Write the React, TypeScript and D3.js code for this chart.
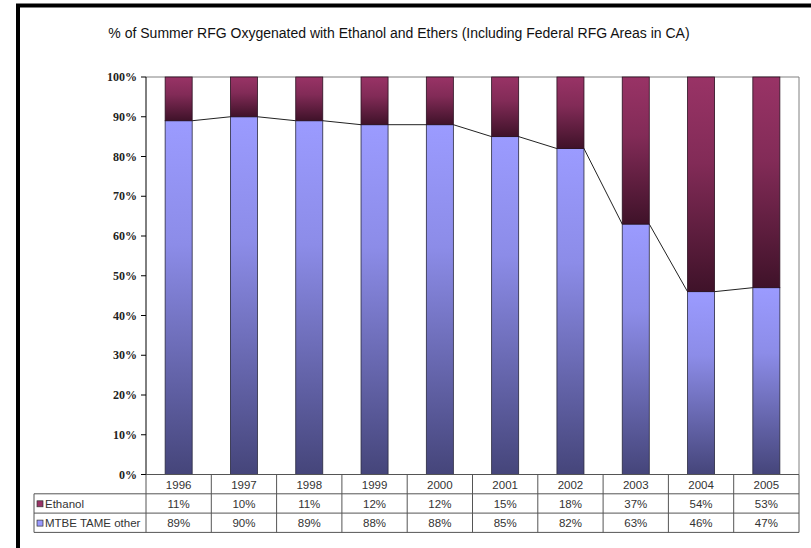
import React from "react";
import * as d3 from "d3";

const years = ["1996", "1997", "1998", "1999", "2000", "2001", "2002", "2003", "2004", "2005"];
const ethanol = [11, 10, 11, 12, 12, 15, 18, 37, 54, 53];
const mtbe = [89, 90, 89, 88, 88, 85, 82, 63, 46, 47];
const seriesNames = ["Ethanol", "MTBE TAME other"];
const yTicks = [0, 10, 20, 30, 40, 50, 60, 70, 80, 90, 100];
const title = "% of Summer RFG Oxygenated with Ethanol and Ethers (Including Federal RFG Areas in CA)";

const W = 811;
const H = 548;
const plotLeft = 146;
const plotRight = 799;
const plotTop = 77;
const plotBottom = 474.5;
const rowH = 19.3;
const tableLeft = 34;

export default function App() {
  const x = d3
    .scaleBand<string>()
    .domain(years)
    .range([plotLeft, plotRight])
    .paddingInner(0.586)
    .paddingOuter(0.293);
  const cols = d3.scaleBand<string>().domain(years).range([plotLeft, plotRight]).padding(0);
  const y = d3.scaleLinear().domain([0, 100]).range([plotBottom, plotTop]);
  const bw = x.bandwidth();

  const stacked = years.map((yr, i) => ({
    yr,
    m0: 0,
    m1: mtbe[i],
    e0: mtbe[i],
    e1: mtbe[i] + ethanol[i],
  }));

  const row1 = plotBottom;
  const row2 = row1 + rowH;
  const row3 = row2 + rowH;
  const row4 = row3 + rowH;
  const gridColor = "#555";
  const textColor = "#333";

  return (
    <svg
      width={W}
      height={H}
      style={{ position: "absolute", left: 0, top: 0, background: "#fff" }}
      fontFamily="Arial, 'Liberation Sans', sans-serif"
    >
      <defs>
        <linearGradient id="gM" x1="0" y1="0" x2="0" y2="1">
          <stop offset="0" stopColor="#9b9bff" />
          <stop offset="0.35" stopColor="#8c8ce8" />
          <stop offset="1" stopColor="#45457a" />
        </linearGradient>
        <linearGradient id="gE" x1="0" y1="0" x2="0" y2="1">
          <stop offset="0" stopColor="#993366" />
          <stop offset="0.4" stopColor="#822b57" />
          <stop offset="1" stopColor="#3f1229" />
        </linearGradient>
      </defs>

      {/* outer frame */}
      <rect x={18} y={5.5} width={W} height={H + 10} fill="none" stroke="#000" strokeWidth={4} />

      {/* title */}
      <text x={399} y={38} textAnchor="middle" fontSize={14} fill="#111">
        {title}
      </text>

      {/* plot area border (top/right) */}
      <line x1={plotLeft} x2={plotRight} y1={plotTop} y2={plotTop} stroke="#808080" strokeWidth={1} />
      <line x1={plotRight} x2={plotRight} y1={plotTop} y2={plotBottom} stroke="#808080" strokeWidth={1} />

      {/* y axis */}
      <line x1={plotLeft} x2={plotLeft} y1={plotTop} y2={plotBottom} stroke="#000" strokeWidth={1} />
      {yTicks.map((t) => (
        <g key={t}>
          <line x1={plotLeft - 5} x2={plotLeft} y1={y(t)} y2={y(t)} stroke="#000" />
          <text
            x={137}
            y={y(t) + 4}
            textAnchor="end"
            fontSize={12}
            fontWeight="bold"
            fontFamily="'Liberation Serif', 'Times New Roman', serif"
            fill="#222"
          >
            {t}%
          </text>
        </g>
      ))}

      {/* series lines */}
      {stacked.slice(0, -1).map((d, i) => {
        const n = stacked[i + 1];
        return (
          <line
            key={"sl" + i}
            x1={(x(d.yr) as number) + bw}
            x2={x(n.yr) as number}
            y1={y(d.m1)}
            y2={y(n.m1)}
            stroke="#222"
            strokeWidth={1}
          />
        );
      })}

      {/* bars */}
      {stacked.map((d) => (
        <g key={d.yr}>
          <rect
            x={x(d.yr) as number}
            y={y(d.m1)}
            width={bw}
            height={y(d.m0) - y(d.m1)}
            fill="url(#gM)"
            stroke="#2a2a40"
            strokeWidth={0.8}
          />
          <rect
            x={x(d.yr) as number}
            y={y(d.e1)}
            width={bw}
            height={y(d.e0) - y(d.e1)}
            fill="url(#gE)"
            stroke="#2a1020"
            strokeWidth={0.8}
          />
        </g>
      ))}

      {/* data table */}
      <g stroke={gridColor} strokeWidth={1} fill="none">
        <line x1={plotLeft} x2={plotRight} y1={row1} y2={row1} />
        <line x1={tableLeft} x2={plotRight} y1={row2} y2={row2} />
        <line x1={tableLeft} x2={plotRight} y1={row3} y2={row3} />
        <line x1={tableLeft} x2={plotRight} y1={row4} y2={row4} />
        <line x1={tableLeft} x2={tableLeft} y1={row2} y2={row4} />
        {years.map((yr) => (
          <line key={"v" + yr} x1={cols(yr) as number} x2={cols(yr) as number} y1={row1} y2={row4} />
        ))}
        <line x1={plotRight} x2={plotRight} y1={row1} y2={row4} />
      </g>
      {years.map((yr, i) => {
        const cx = (cols(yr) as number) + cols.bandwidth() / 2;
        return (
          <g key={"t" + yr} fontSize={11.5} fill={textColor} textAnchor="middle">
            <text x={cx} y={row1 + 14}>{yr}</text>
            <text x={cx} y={row2 + 14}>{ethanol[i]}%</text>
            <text x={cx} y={row3 + 14}>{mtbe[i]}%</text>
          </g>
        );
      })}
      {/* legend keys */}
      <rect x={37} y={row2 + 7} width={6} height={6} fill="#993366" stroke="#333" strokeWidth={0.7} />
      <text x={45} y={row2 + 14} fontSize={11.5} fill={textColor}>
        {seriesNames[0]}
      </text>
      <rect x={37} y={row3 + 7} width={6} height={6} fill="#9999ff" stroke="#333" strokeWidth={0.7} />
      <text x={45} y={row3 + 14} fontSize={11.5} fill={textColor}>
        {seriesNames[1]}
      </text>
    </svg>
  );
}
